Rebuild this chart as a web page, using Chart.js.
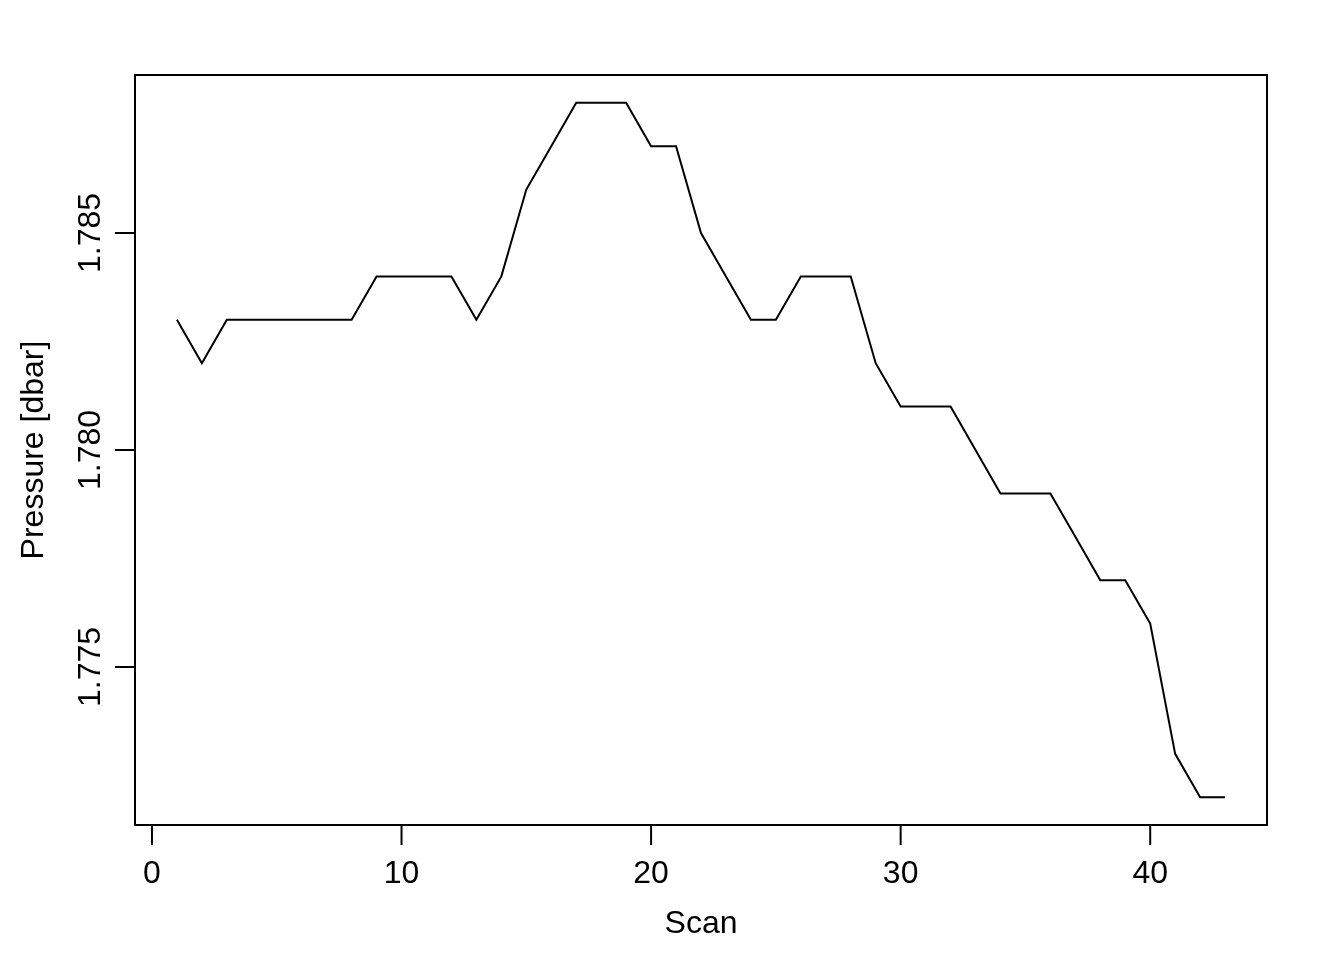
<!DOCTYPE html>
<html>
<head>
<meta charset="utf-8">
<script src="https://cdn.jsdelivr.net/npm/chart.js@4/dist/chart.umd.min.js"></script>
<style>
  body { margin: 0; background: #fff; }
  canvas { display: block; }
</style>
</head>
<body>
<canvas id="chart" width="1344" height="960"></canvas>
<script>
// pressure per scan
const scans = [];
for (let i = 1; i <= 43; i++) scans.push(i);
const pressure = [
    1.783, 1.782, 1.783, 1.783, 1.783, 1.783, 1.783, 1.783, 1.784, 1.784,
    1.784, 1.784, 1.783, 1.784, 1.786, 1.787, 1.788, 1.788, 1.788, 1.787,
    1.787, 1.785, 1.784, 1.783, 1.783, 1.784, 1.784, 1.784, 1.782, 1.781,
    1.781, 1.781, 1.780, 1.779, 1.779, 1.779, 1.778, 1.777, 1.777, 1.776,
    1.773, 1.772, 1.772
];
const xTicks = [0, 10, 20, 30, 40];
const yTicks = [1.775, 1.780, 1.785];
const yTickLabels = ['1.775', '1.780', '1.785'];
const xTitle = 'Scan';
const yTitle = 'Pressure [dbar]';

// R style 4% padding on each side
const pad = (lo, hi) => [lo - (hi - lo) * 0.04, hi + (hi - lo) * 0.04];
const [xMin, xMax] = pad(Math.min(...scans), Math.max(...scans));
const [yMin, yMax] = pad(Math.min(...pressure), Math.max(...pressure));

const FONT = '32px "Liberation Sans", Arial, sans-serif';

const baseAxes = {
    id: 'baseAxes',
    afterDraw(chart) {
        const { ctx, chartArea: a, scales: { x, y } } = chart;
        ctx.save();
        ctx.strokeStyle = '#000';
        ctx.fillStyle = '#000';
        ctx.lineWidth = 2;
        ctx.strokeRect(a.left, a.top, a.right - a.left, a.bottom - a.top);

        ctx.font = FONT;
        // x axis
        const x0 = x.getPixelForValue(xTicks[0]);
        const x1 = x.getPixelForValue(xTicks[xTicks.length - 1]);
        ctx.beginPath();
        ctx.moveTo(x0, a.bottom);
        ctx.lineTo(x1, a.bottom);
        ctx.stroke();
        ctx.textAlign = 'center';
        ctx.textBaseline = 'alphabetic';
        for (const t of xTicks) {
            const px = x.getPixelForValue(t);
            ctx.beginPath();
            ctx.moveTo(px, a.bottom);
            ctx.lineTo(px, a.bottom + 20);
            ctx.stroke();
            ctx.fillText(String(t), px, 883);
        }
        ctx.fillText(xTitle, (a.left + a.right) / 2, 933);

        // y axis
        const y0 = y.getPixelForValue(yTicks[0]);
        const y1 = y.getPixelForValue(yTicks[yTicks.length - 1]);
        ctx.beginPath();
        ctx.moveTo(a.left, y0);
        ctx.lineTo(a.left, y1);
        ctx.stroke();
        yTicks.forEach((t, i) => {
            const py = y.getPixelForValue(t);
            ctx.beginPath();
            ctx.moveTo(a.left, py);
            ctx.lineTo(a.left - 20, py);
            ctx.stroke();
            ctx.save();
            ctx.translate(100, py);
            ctx.rotate(-Math.PI / 2);
            ctx.fillText(yTickLabels[i], 0, 0);
            ctx.restore();
        });
        ctx.save();
        ctx.translate(43, (a.top + a.bottom) / 2);
        ctx.rotate(-Math.PI / 2);
        ctx.fillText(yTitle, 0, 0);
        ctx.restore();
        ctx.restore();
    }
};

new Chart(document.getElementById('chart'), {
    type: 'line',
    data: {
        datasets: [{
            data: scans.map((s, i) => ({ x: s, y: pressure[i] })),
            borderColor: '#000',
            borderWidth: 2,
            pointRadius: 0,
            tension: 0,
            fill: false
        }]
    },
    options: {
        responsive: false,
        animation: false,
        devicePixelRatio: 1,
        layout: { padding: { left: 135, top: 75, right: 77, bottom: 135 } },
        plugins: { legend: { display: false }, tooltip: { enabled: false } },
        scales: {
            x: { type: 'linear', min: xMin, max: xMax, display: false },
            y: { type: 'linear', min: yMin, max: yMax, display: false }
        }
    },
    plugins: [baseAxes]
});
</script>
</body>
</html>
